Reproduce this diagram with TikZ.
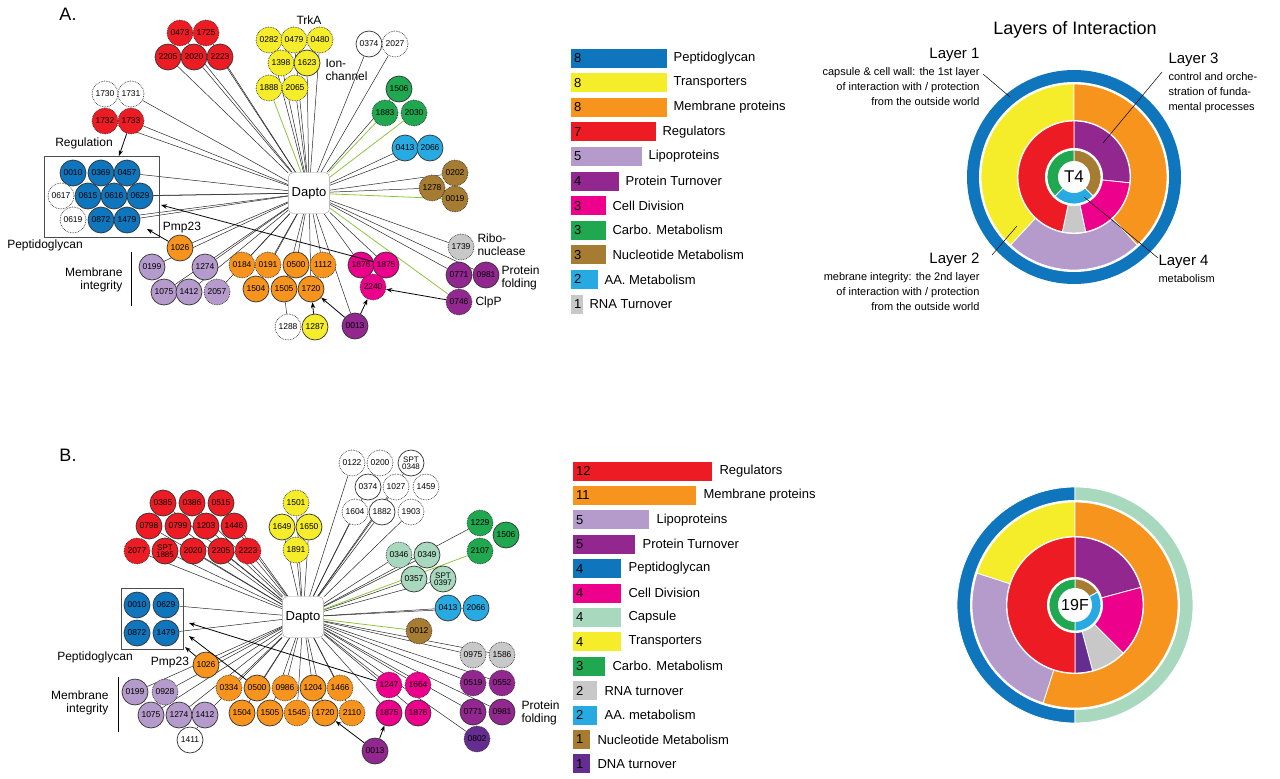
\documentclass[tikz,border=0pt]{standalone}
\usepackage{fontspec}
\setmainfont{Liberation Sans}
\usetikzlibrary{positioning,arrows.meta,backgrounds}
\definecolor{cblu}{HTML}{0F75BC}
\definecolor{cyel}{HTML}{F5EC2A}
\definecolor{corg}{HTML}{F7941D}
\definecolor{cred}{HTML}{ED1C24}
\definecolor{clil}{HTML}{B59BCB}
\definecolor{cpur}{HTML}{92278F}
\definecolor{cdpu}{HTML}{662D91}
\definecolor{cmag}{HTML}{EC008C}
\definecolor{cgrn}{HTML}{1FA84F}
\definecolor{cbrn}{HTML}{A67C32}
\definecolor{ccya}{HTML}{27AAE1}
\definecolor{cgry}{HTML}{C8C8C8}
\definecolor{cmin}{HTML}{A8D8BE}
\definecolor{cedg}{HTML}{8DC63F}
\newcommand{\seg}[4]{\fill[#4, draw=white, line width=0.8pt] (0,0) -- (#1:#3) arc (#1:#2:#3) -- cycle;}
\begin{document}
\begin{tikzpicture}[x=1pt, y=-1pt,
    gene/.style={
        circle,
        draw=black!80,
        line width=0.7pt,
        fill=#1,
        minimum size=26pt,
        inner sep=0pt,
        font=\fontsize{8.5}{8.5}\selectfont
    },
    d/.style={densely dotted},
    s/.style={solid},
    hub/.style={
        draw=black!40,
        rounded corners=5pt,
        fill=white,
        minimum size=41pt,
        font=\fontsize{13}{13}\selectfont
    },
    lbl/.style={font=\fontsize{12}{13}\selectfont},
    arr/.style={-{Stealth[length=6pt]}, line width=0.8pt},
    edge/.style={black!85, line width=0.5pt},
    bar/.style={
        fill=#1,
        minimum height=19pt,
        inner sep=0pt,
        anchor=west
    },
    legtext/.style={font=\fontsize{13}{13}\selectfont, inner sep=0pt},
    desc/.style={font=\fontsize{11}{15}\selectfont, align=#1}
]
\useasboundingbox (0,0) rectangle (1280,779);

%%%%%%%%%%%%%%%%%%%%%%%%
% Panel A: network
%%%%%%%%%%%%%%%%%%%%%%%%

\node[font=\fontsize{18}{18}\selectfont] (titA) at (68,14) {A.};
\node[hub] (dA) at (309,193) {Dapto};

% --- Genes ---
\foreach \id/\x/\y/\c/\s in {
    0473/180/33/cred/d, 1725/206/33/cred/d, 2205/168/57/cred/s, 2020/194/57/cred/s, 2223/220/57/cred/s,
    0282/269/40/cyel/d, 0479/294/40/cyel/d, 0480/320/40/cyel/d, 1398/281/63/cyel/d, 1623/307/63/cyel/s,
    1888/269/88/cyel/d, 2065/295/88/cyel/d,
    0374/369/44/white/s, 2027/395/44/white/d,
    1506/399/89/cgrn/s, 1883/385/113/cgrn/d, 2030/414/113/cgrn/d,
    0413/405/148/ccya/s, 2066/430/148/ccya/s,
    0202/455/173/cbrn/d, 1278/432/188/cbrn/d, 0019/455/199/cbrn/d,
    1739/461/247/cgry/d,
    0771/459/275/cpur/s, 0981/486/275/cpur/s, 0746/459/302/cpur/d,
    1876/361/265/cmag/s, 1875/386/265/cmag/s, 2240/373/287/cmag/d,
    0013/355/326/cpur/s, 1287/315/327/cyel/s, 1288/288/327/white/d,
    0184/242/265/corg/d, 0191/268/265/corg/d, 0500/296/265/corg/s, 1112/323/265/corg/d,
    1504/256/289/corg/s, 1505/284/289/corg/s, 1720/311/289/corg/s,
    1026/180/248/corg/s,
    0199/152/267/clil/s, 1274/205/267/clil/s, 1075/164/292/clil/s, 1412/189/292/clil/s, 2057/217/292/clil/d,
    0010/73/173/cblu/s, 0369/101/173/cblu/s, 0457/127/173/cblu/s,
    0617/61/196/white/d, 0615/88/196/cblu/s, 0616/114/196/cblu/s, 0629/140/196/cblu/s,
    0619/73/220/white/d, 0872/101/220/cblu/s, 1479/127/220/cblu/s,
    1730/105/94/white/d, 1731/131/94/white/d, 1732/105/121/cred/d, 1733/131/121/cred/d}
    \node[gene=\c, \s] (a\id) at (\x,\y) {\id};

\node[draw=black!70, line width=0.7pt, minimum width=115pt, minimum height=81pt] (pgA) at (101.5,196.5) {};

% --- Labels ---
\node[lbl] (trk) at (309,20) {TrkA};
\node[lbl, align=left, anchor=west] (ion) at (322,70) {Ion-\\channel};
\node[lbl] (reg) at (84,143) {Regulation};
\node[lbl] (pepA) at (45,245) {Peptidoglycan};
\node[lbl] (pmpA) at (182,228) {Pmp23};
\node[lbl, align=right, anchor=east] (memA) at (126,280) {Membrane\\integrity};
\node[lbl, align=left, anchor=west] (ribo) at (474,245) {Ribo-\\nuclease};
\node[lbl, align=left, anchor=west] (folA) at (498,278) {Protein\\folding};
\node[lbl, anchor=west] (clpp) at (472,302) {ClpP};
\coordinate (memA1) at (131,252);
\coordinate (memA2) at (131,306);
\draw[line width=1pt] (memA1) -- (memA2);

% --- Edges ---
\begin{pgfonlayer}{background}
\foreach \id in {2205,2020,2223,1725,0473,2065,1398,1623,0479,0282,0480,0374,2027,1506,
    0413,2066,0202,1278,1739,0771,0981,1876,1875,0013,1720,1112,0500,0191,0184,
    1505,1504,1026,0199,1274,1075,1412,2057,0457,0629,1479,0872,0616,1731,1732,1733}
    \draw[edge] (dA) -- (a\id);
\foreach \id in {1888,1883,2030,0019,0746}
    \draw[edge, cedg, line width=0.8pt] (dA) -- (a\id);
\draw[edge] (a1288) -- (a1505);
\end{pgfonlayer}

% --- Arrows ---
\coordinate (pa1) at (147,229);
\coordinate (pa2) at (161,205);
\coordinate (pa3) at (119,156);
\draw[arr] (a1733) -- (pa3);
\draw[arr] (a1026) -- (pa1);
\draw[arr] (a1875) -- (pa2);
\draw[arr] (a0746) -- (a2240);
\draw[arr] (a0013) -- (a2240);
\draw[arr] (a0013) -- (a1720);
\draw[arr] (a1287) -- (a1720);

%%%%%%%%%%%%%%%%%%%%%%%%
% Panel B: network
%%%%%%%%%%%%%%%%%%%%%%%%

\node[font=\fontsize{18}{18}\selectfont] (titB) at (68,455) {B.};
\node[hub] (dB) at (303,617) {Dapto};

\foreach \id/\x/\y/\c/\s in {
    0385/163/503/cred/s, 0386/192/503/cred/s, 0515/221/503/cred/s,
    0798/149/526/cred/s, 0799/178/526/cred/s, 1203/206/526/cred/s, 1446/234/526/cred/s,
    2077/137/551/cred/d, 2020/193/551/cred/s, 2205/221/551/cred/s, 2223/248/551/cred/d,
    1501/296/503/cyel/d, 1649/282/527/cyel/s, 1650/309/527/cyel/s, 1891/296/550/cyel/d,
    0122/352/463/white/d, 0200/380/463/white/d, 0374/368/487/white/s, 1027/396/487/white/d,
    1459/426/487/white/d, 1604/355/512/white/d, 1882/382/512/white/s, 1903/411/512/white/d,
    1229/480/523/cgrn/d, 1506/506/535/cgrn/s, 2107/480/551/cgrn/d,
    0346/399/555/cmin/d, 0349/427/555/cmin/s, 0357/414/579/cmin/s,
    0413/448/608/ccya/s, 2066/476/608/ccya/s,
    0012/419/631/cbrn/d,
    0975/473/655/cgry/d, 1586/502/655/cgry/d,
    0519/473/683/cpur/d, 0552/502/683/cpur/d, 0771/473/712/cpur/s, 0981/502/712/cpur/s,
    0802/477/739/cdpu/d,
    1247/389/685/cmag/d, 1664/418/685/cmag/d, 1875/389/713/cmag/s, 1876/418/713/cmag/s,
    0013/375/751/cpur/s,
    0334/229/688/corg/d, 0500/257/688/corg/s, 0986/285/688/corg/d, 1204/313/688/corg/s,
    1466/340/688/corg/d, 1504/242/713/corg/s, 1505/270/713/corg/s, 1545/297/713/corg/d,
    1720/325/713/corg/s, 2110/352/713/corg/d,
    1026/206/665/corg/s,
    0010/137/605/cblu/s, 0629/166/605/cblu/s, 0872/137/633/cblu/s, 1479/166/633/cblu/s,
    0199/135/692/clil/s, 0928/165/692/clil/d, 1075/151/715/clil/s, 1274/179/715/clil/s,
    1412/205/715/clil/s, 1411/190/740/white/s}
    \node[gene=\c, \s] (b\id) at (\x,\y) {\id};
\node[gene=cred, align=center, font=\fontsize{8}{7.5}\selectfont] (b1885) at (165,551) {SPT\\1885};
\node[gene=white, align=center, font=\fontsize{8}{7.5}\selectfont] (b0348) at (411,463) {SPT\\0348};
\node[gene=cmin, align=center, font=\fontsize{8}{7.5}\selectfont] (b0397) at (443,579) {SPT\\0397};

\node[draw=black!70, line width=0.7pt, minimum width=62pt, minimum height=61pt] (pgB) at (152,619) {};

\node[lbl] (pepB) at (95,657) {Peptidoglycan};
\node[lbl] (pmpB) at (170,663) {Pmp23};
\node[lbl, align=right, anchor=east] (memB) at (112,703) {Membrane\\integrity};
\node[lbl, align=left, anchor=west] (folB) at (518,713) {Protein\\folding};
\coordinate (memB1) at (118,677);
\coordinate (memB2) at (118,732);
\draw[line width=1pt] (memB1) -- (memB2);

\begin{pgfonlayer}{background}
\foreach \id in {0385,0386,0515,0798,0799,1203,1446,2077,1885,2020,2205,2223,
    1501,1649,1650,1891,0122,0374,1604,1882,1903,1027,0348,1229,0346,0349,0357,0397,
    0413,2066,0975,1586,0519,0552,0771,0981,0802,1247,1664,1875,1876,0334,0500,
    0986,1204,1466,1504,1505,1545,1720,2110,1026,0199,0928,1075,1274,1412,0629,1479}
    \draw[edge] (dB) -- (b\id);
\foreach \id in {2107,0012}
    \draw[edge, cedg, line width=0.8pt] (dB) -- (b\id);
\draw[edge] (b1411) -- (b1412);
\end{pgfonlayer}

\coordinate (pb1) at (185,647);
\coordinate (pb2) at (189,623);
\coordinate (pb3) at (189,636);
\draw[arr] (b1026) -- (pb1);
\draw[arr] (b1247) -- (pb2);
\draw[arr] (b0500) -- (pb3);
\draw[arr] (b0013) -- (b1720);
\draw[arr] (b0013) -- (b1875);

%%%%%%%%%%%%%%%%%%%%%%%%
% Legends
%%%%%%%%%%%%%%%%%%%%%%%%

\foreach \n/\w/\c/\t [count=\i] in {
    8/96/cblu/Peptidoglycan, 8/96/cyel/Transporters, 8/96/corg/Membrane proteins,
    7/85/cred/Regulators, 5/71/clil/Lipoproteins, 4/48/cpur/Protein Turnover,
    3/35/cmag/Cell Division, 3/35/cgrn/Carbo. Metabolism, 3/35/cbrn/Nucleotide Metabolism,
    2/27/ccya/AA. Metabolism, 1/12/cgry/RNA Turnover}
{
    \node[bar=\c, minimum width=\w pt] (la\i) at (571,{58+24.6*(\i-1)}) {};
    \node[legtext, anchor=west] at ([xshift=3pt]la\i.west) {\n};
    \node[legtext, right=6pt of la\i] {\t};
}

\foreach \n/\w/\c/\t [count=\i] in {
    12/139/cred/Regulators, 11/123/corg/Membrane proteins, 5/76/clil/Lipoproteins,
    5/62/cpur/Protein Turnover, 4/48/cblu/Peptidoglycan, 4/48/cmag/Cell Division,
    4/48/cmin/Capsule, 4/48/cyel/Transporters, 3/32/cgrn/Carbo. Metabolism,
    2/24/cgry/RNA turnover, 2/24/ccya/AA. metabolism, 1/17/cbrn/Nucleotide Metabolism,
    1/17/cdpu/DNA turnover}
{
    \node[bar=\c, minimum width=\w pt] (lb\i) at (573,{471+24.4*(\i-1)}) {};
    \node[legtext, anchor=west] at ([xshift=3pt]lb\i.west) {\n};
    \node[legtext, right=7pt of lb\i] {\t};
}

%%%%%%%%%%%%%%%%%%%%%%%%
% Layers of interaction
%%%%%%%%%%%%%%%%%%%%%%%%

\node[font=\fontsize{18}{18}\selectfont] (layt) at (1075,30) {Layers of Interaction};

\begin{scope}[shift={(1074,177)}, yscale=-1]
    \fill[cblu] (0,0) circle (107);
    \fill[white] (0,0) circle (95);
    \seg{90}{227}{93}{cyel}
    \seg{227}{313}{93}{clil}
    \seg{313}{450}{93}{corg}
    \fill[white] (0,0) circle (57);
    \seg{90}{-6}{56}{cpur}
    \seg{-6}{-78}{56}{cmag}
    \seg{-78}{-102}{56}{cgry}
    \seg{-102}{-270}{56}{cred}
    \fill[white] (0,0) circle (29);
    \seg{90}{-45}{27}{cbrn}
    \seg{-45}{-135}{27}{ccya}
    \seg{-135}{-270}{27}{cgrn}
    \fill[white] (0,0) circle (16);
\end{scope}
\node[font=\fontsize{17}{17}\selectfont] (t4) at (1074,177) {T4};

\node[font=\fontsize{15}{15}\selectfont, anchor=east] (ly1) at (983,55) {Layer 1};
\node[desc=right, anchor=north east] (ly1d) at (983,64) {capsule \& cell wall: the 1st layer\\of interaction with / protection\\from the outside world};
\node[font=\fontsize{15}{15}\selectfont, anchor=west] (ly3) at (1165,60) {Layer 3};
\node[desc=left, anchor=north west] (ly3d) at (1165,69) {control and orche-\\stration of funda-\\mental processes};
\node[font=\fontsize{15}{15}\selectfont, anchor=east] (ly2) at (983,260) {Layer 2};
\node[desc=right, anchor=north east] (ly2d) at (983,269) {mebrane integrity: the 2nd layer\\of interaction with / protection\\from the outside world};
\node[font=\fontsize{15}{15}\selectfont, anchor=west] (ly4) at (1155,262) {Layer 4};
\node[desc=left, anchor=north west] (ly4d) at (1155,271) {metabolism};

\coordinate (p1) at (1010,97);
\coordinate (p3) at (1103,143);
\coordinate (p2) at (1017,226);
\coordinate (p4) at (1084,197);
\draw[line width=0.5pt] (983,74) -- (p1);
\draw[line width=0.5pt] (1162,72) -- (p3);
\draw[line width=0.5pt] (992,255) -- (p2);
\draw[line width=0.5pt] (1158,258) -- (p4);

% second donut
\begin{scope}[shift={(1075,605)}, yscale=-1]
    \seg{90}{270}{118}{cblu}
    \seg{-90}{90}{118}{cmin}
    \fill[white] (0,0) circle (105);
    \seg{90}{162}{103}{cyel}
    \seg{162}{252}{103}{clil}
    \seg{252}{450}{103}{corg}
    \fill[white] (0,0) circle (69);
    \seg{90}{15}{68}{cpur}
    \seg{15}{-45}{68}{cmag}
    \seg{-45}{-75}{68}{cgry}
    \seg{-75}{-90}{68}{cdpu}
    \seg{-90}{-270}{68}{cred}
    \fill[white] (0,0) circle (28);
    \seg{90}{30}{26}{cbrn}
    \seg{30}{-90}{26}{ccya}
    \seg{-90}{-270}{26}{cgrn}
    \fill[white] (0,0) circle (17);
\end{scope}
\node[font=\fontsize{16}{16}\selectfont] (t19) at (1075,605) {19F};

\end{tikzpicture}
\end{document}
